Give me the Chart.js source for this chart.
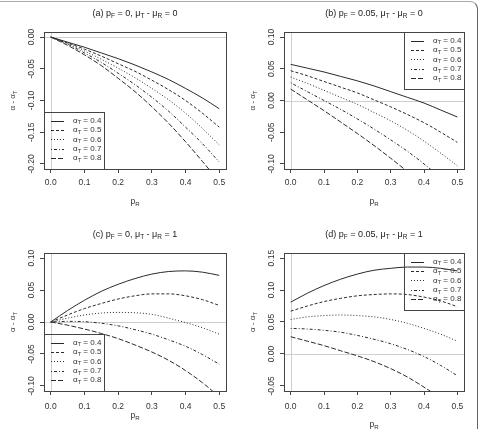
<!DOCTYPE html>
<html>
<head>
<meta charset="utf-8">
<script src="https://cdn.jsdelivr.net/npm/chart.js@4.4.1/dist/chart.umd.min.js"></script>
<style>
  body { margin: 0; background: #fff; width: 481px; height: 429px; position: relative; overflow: hidden; }
  canvas { position: absolute; }
  .frame { position: absolute; left: -2px; top: 1px; width: 479px; height: 460px;
           border-top: 1px solid #aaa; border-right: 1px solid #666; border-top-right-radius: 8px; pointer-events: none; }
</style>
</head>
<body>
<canvas id="pa" width="240" height="214" style="left:0;top:0"></canvas>
<canvas id="pb" width="241" height="214" style="left:240px;top:0"></canvas>
<canvas id="pc" width="240" height="215" style="left:0;top:214px"></canvas>
<canvas id="pd" width="241" height="215" style="left:240px;top:214px"></canvas>
<div class="frame"></div>
<script>
// p_R grid (x values)
const pR = [0, 0.05, 0.1, 0.15, 0.2, 0.25, 0.3, 0.35, 0.4, 0.45, 0.5];
const alphaT = ['0.4', '0.5', '0.6', '0.7', '0.8'];
const xTicks = [0, 0.1, 0.2, 0.3, 0.4, 0.5];

// (a) pF = 0, muT - muR = 0
const a04 = [0, -0.008, -0.016, -0.025, -0.034, -0.044, -0.055, -0.067, -0.081, -0.096, -0.113];
const a05 = [0, -0.009, -0.019, -0.030, -0.042, -0.054, -0.068, -0.083, -0.100, -0.120, -0.142];
const a06 = [0, -0.010, -0.022, -0.035, -0.049, -0.064, -0.081, -0.099, -0.120, -0.144, -0.170];
const a07 = [0, -0.011, -0.025, -0.040, -0.057, -0.075, -0.095, -0.117, -0.142, -0.168, -0.197];
const a08 = [0, -0.013, -0.028, -0.045, -0.065, -0.086, -0.110, -0.136, -0.165, -0.196, -0.228];

// (b) pF = 0.05, muT - muR = 0
const b04 = [0.057, 0.051, 0.045, 0.038, 0.031, 0.023, 0.014, 0.005, -0.004, -0.015, -0.026];
const b05 = [0.047, 0.039, 0.030, 0.021, 0.012, 0.001, -0.010, -0.022, -0.035, -0.050, -0.066];
const b06 = [0.037, 0.027, 0.016, 0.005, -0.006, -0.019, -0.032, -0.047, -0.064, -0.083, -0.103];
const b07 = [0.028, 0.014, 0.000, -0.014, -0.029, -0.045, -0.062, -0.080, -0.100, -0.122, -0.146];
const b08 = [0.018, 0.001, -0.016, -0.034, -0.052, -0.071, -0.091, -0.112, -0.134, -0.157, -0.181];

// (c) pF = 0, muT - muR = 1
const c04 = [0, 0.018, 0.034, 0.048, 0.059, 0.068, 0.075, 0.079, 0.080, 0.078, 0.073];
const c05 = [0, 0.011, 0.021, 0.029, 0.036, 0.041, 0.044, 0.044, 0.041, 0.035, 0.026];
const c06 = [0, 0.006, 0.011, 0.014, 0.015, 0.0145, 0.012, 0.006, -0.001, -0.009, -0.019];
const c07 = [0, 0.001, 0.0005, -0.002, -0.006, -0.012, -0.019, -0.028, -0.038, -0.051, -0.066];
const c08 = [0, -0.005, -0.011, -0.018, -0.026, -0.036, -0.047, -0.060, -0.076, -0.095, -0.117];

// (d) pF = 0.05, muT - muR = 1
const d04 = [0.081, 0.095, 0.107, 0.117, 0.125, 0.131, 0.134, 0.136, 0.136, 0.134, 0.130];
const d05 = [0.067, 0.075, 0.082, 0.087, 0.091, 0.093, 0.094, 0.093, 0.089, 0.083, 0.074];
const d06 = [0.054, 0.058, 0.060, 0.061, 0.060, 0.058, 0.054, 0.048, 0.040, 0.031, 0.020];
const d07 = [0.040, 0.039, 0.037, 0.034, 0.029, 0.023, 0.016, 0.007, -0.004, -0.018, -0.034];
const d08 = [0.027, 0.020, 0.013, 0.005, -0.003, -0.012, -0.023, -0.036, -0.052, -0.069, -0.088];

// y axis ticks and limits (R adds 4% on each side)
const yTicksA = [-0.2, -0.15, -0.1, -0.05, 0];
const yTicksB = [-0.1, -0.05, 0, 0.05, 0.1];
const yTicksC = [-0.1, -0.05, 0, 0.05, 0.1];
const yTicksD = [-0.05, 0, 0.05, 0.1, 0.15];
const yLimA = [-0.208, 0.008];
const yLimB = [-0.108, 0.108];
const yLimC = [-0.108, 0.108];
const yLimD = [-0.058, 0.158];

// titles as [text, isSubscript] pieces
const titleA = [['(a) p', 0], ['F', 1], [' = 0, μ', 0], ['T', 1], [' - μ', 0], ['R', 1], [' = 0', 0]];
const titleB = [['(b) p', 0], ['F', 1], [' = 0.05, μ', 0], ['T', 1], [' - μ', 0], ['R', 1], [' = 0', 0]];
const titleC = [['(c) p', 0], ['F', 1], [' = 0, μ', 0], ['T', 1], [' - μ', 0], ['R', 1], [' = 1', 0]];
const titleD = [['(d) p', 0], ['F', 1], [' = 0.05, μ', 0], ['T', 1], [' - μ', 0], ['R', 1], [' = 1', 0]];
const xTitle = [['p', 0], ['R', 1]];
const yTitle = [['α - α', 0], ['T', 1]];

// R line types 1..5
const dashes = [[], [3, 2], [1, 2], [1, 2, 3, 2], [5, 2]];
const FONT = '"Liberation Sans", Arial, sans-serif';

function partsWidth(ctx, parts, size) {
    let w = 0;
    parts.forEach(([t, s]) => {
        ctx.font = (s ? size * 0.72 : size) + 'px ' + FONT;
        w += ctx.measureText(t).width;
    });
    return w;
}

function drawParts(ctx, parts, x, y, size, align) {
    let cx = align === 'center' ? x - partsWidth(ctx, parts, size) / 2 : x;
    ctx.textAlign = 'left';
    ctx.textBaseline = 'middle';
    parts.forEach(([t, s]) => {
        ctx.font = (s ? size * 0.72 : size) + 'px ' + FONT;
        ctx.fillText(t, cx, s ? y + size * 0.28 : y);
        cx += ctx.measureText(t).width;
    });
}

const rPanel = {
    id: 'rPanel',
    beforeDatasetsDraw(chart) {
        const { ctx, chartArea: a, scales: { x, y } } = chart;
        ctx.save();
        ctx.beginPath();
        ctx.rect(a.left, a.top, a.width, a.height);
        ctx.clip();
        ctx.strokeStyle = '#cfcfcf';
        ctx.lineWidth = 1;
        const x0 = Math.round(x.getPixelForValue(0)) + 0.5;
        const y0 = Math.round(y.getPixelForValue(0)) + 0.5;
        ctx.beginPath();
        ctx.moveTo(x0, a.top); ctx.lineTo(x0, a.bottom);
        ctx.moveTo(a.left, y0); ctx.lineTo(a.right, y0);
        ctx.stroke();
        ctx.restore();
    },
    afterDraw(chart, args, o) {
        const { ctx, chartArea: a, scales: { y } } = chart;
        ctx.save();
        // box
        ctx.strokeStyle = '#444';
        ctx.lineWidth = 1;
        ctx.strokeRect(a.left + 0.5, a.top + 0.5, a.width, a.height);
        ctx.fillStyle = '#333';
        // y tick labels, parallel to the axis
        y.ticks.forEach(t => {
            const py = y.getPixelForValue(t.value);
            ctx.save();
            ctx.translate(a.left - 12, py);
            ctx.rotate(-Math.PI / 2);
            drawParts(ctx, [[t.value.toFixed(2), 0]], 0, 0, 8.5, 'center');
            ctx.restore();
        });
        // axis titles
        ctx.save();
        ctx.translate(13, (a.top + a.bottom) / 2);
        ctx.rotate(-Math.PI / 2);
        drawParts(ctx, yTitle, 0, 0, 8, 'center');
        ctx.restore();
        drawParts(ctx, xTitle, (a.left + a.right) / 2, a.bottom + o.xTitleDy, 8.5, 'center');
        // main title
        ctx.fillStyle = '#222';
        drawParts(ctx, o.title, (a.left + a.right) / 2, a.top - 18.5, 9, 'center');
        // legend
        const w = 60, h = 57;
        const lx = o.legend === 'topright' ? a.right - w : a.left;
        const ly = o.legend === 'topright' ? a.top : a.bottom - h;
        ctx.strokeStyle = '#444';
        ctx.strokeRect(lx + 0.5, ly + 0.5, w, h);
        chart.data.datasets.forEach((ds, i) => {
            const ry = ly + 8.5 + i * 9.4;
            ctx.save();
            ctx.strokeStyle = ds.borderColor;
            ctx.setLineDash(ds.borderDash);
            ctx.beginPath();
            ctx.moveTo(lx + 7, Math.round(ry) + 0.5);
            ctx.lineTo(lx + 20, Math.round(ry) + 0.5);
            ctx.stroke();
            ctx.restore();
            ctx.fillStyle = '#333';
            drawParts(ctx, [['α', 0], ['T', 1], [' = ' + alphaT[i], 0]], lx + 29, ry, 8, 'left');
        });
        ctx.restore();
    }
};

function makePanel(id, series, yTicks, yLim, title, legend, box) {
    new Chart(document.getElementById(id), {
        type: 'line',
        data: {
            datasets: series.map((ys, i) => ({
                label: 'alphaT = ' + alphaT[i],
                data: pR.map((x, j) => ({ x: x, y: ys[j] })),
                borderColor: '#2a2a2a',
                borderWidth: 1,
                borderDash: dashes[i],
                pointRadius: 0,
                fill: false,
                cubicInterpolationMode: 'monotone'
            }))
        },
        options: {
            responsive: false,
            animation: false,
            layout: { padding: { left: 0, top: box.top, right: box.canvasW - box.right, bottom: 0 } },
            plugins: {
                legend: { display: false },
                tooltip: { enabled: false },
                rPanel: { title: title, legend: legend, xTitleDy: box.xTitleDy }
            },
            scales: {
                x: {
                    type: 'linear',
                    min: -0.02,
                    max: 0.52,
                    afterBuildTicks: s => { s.ticks = xTicks.map(v => ({ value: v })); },
                    afterFit: s => { s.height = box.canvasH - box.bottom; },
                    ticks: {
                        color: '#333',
                        padding: box.tickPad,
                        maxRotation: 0,
                        font: { family: FONT, size: 8.5 },
                        callback: v => v.toFixed(1)
                    },
                    grid: { drawOnChartArea: false, color: '#444', tickLength: 4 },
                    border: { display: false }
                },
                y: {
                    type: 'linear',
                    min: yLim[0],
                    max: yLim[1],
                    afterBuildTicks: s => { s.ticks = yTicks.map(v => ({ value: v })); },
                    afterFit: s => { s.width = box.left; },
                    ticks: { display: false },
                    grid: { drawOnChartArea: false, color: '#444', tickLength: 4 },
                    border: { display: false }
                }
            }
        },
        plugins: [rPanel]
    });
}

makePanel('pa', [a04, a05, a06, a07, a08], yTicksA, yLimA, titleA, 'bottomleft',
    { left: 44, top: 32, right: 226, bottom: 169, canvasW: 240, canvasH: 214, tickPad: 5, xTitleDy: 32.5 });
makePanel('pb', [b04, b05, b06, b07, b08], yTicksB, yLimB, titleB, 'topright',
    { left: 44, top: 32, right: 224, bottom: 169, canvasW: 241, canvasH: 214, tickPad: 5, xTitleDy: 32.5 });
makePanel('pc', [c04, c05, c06, c07, c08], yTicksC, yLimC, titleC, 'bottomleft',
    { left: 44, top: 39, right: 226, bottom: 177, canvasW: 240, canvasH: 215, tickPad: 7, xTitleDy: 25 });
makePanel('pd', [d04, d05, d06, d07, d08], yTicksD, yLimD, titleD, 'topright',
    { left: 44, top: 39, right: 224, bottom: 177, canvasW: 241, canvasH: 215, tickPad: 7, xTitleDy: 34 });
</script>
</body>
</html>
